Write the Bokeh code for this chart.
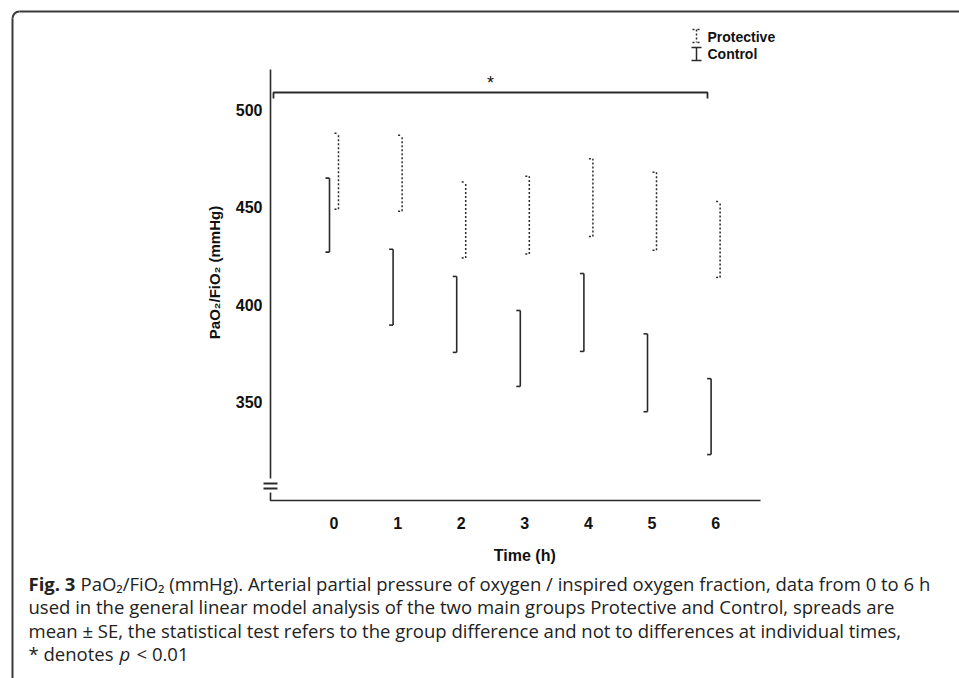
from math import pi
from bokeh.plotting import figure
from bokeh.models import Range1d
from bokeh.core.properties import value
from bokeh.embed import file_html
from bokeh.resources import INLINE

# ---------------- data ----------------
times = [0, 1, 2, 3, 4, 5, 6]
tick_labels = ["0", "1", "2", "3", "4", "5", "6"]
y_ticks = [350, 400, 450, 500]
y_tick_labels = ["350", "400", "450", "500"]
control_mean = [446, 409, 395, 377.5, 396, 365, 342.5]
control_se = [19, 19.5, 19.5, 19.5, 20, 20, 19.5]
protective_mean = [468.5, 467.5, 443.5, 446, 455, 448, 433.5]
protective_se = [19.5, 19.5, 19.5, 20, 20, 20, 19.5]
series_names = ["Protective", "Control"]

# ---------------- layout helpers (page pixels -> data) ----------------
W, H = 959, 678
OX, OY = 0, 0
PX0, PXS = 333.5, 63.6      # page x of t=0, px per hour
PY500, PYS = 109.5, 1.9467  # page y of 500 mmHg, px per mmHg


def X(px):
    return (px - PX0) / PXS


def Y(py):
    return 500 - (py - PY500) / PYS


def dx(px):
    return px / PXS


p = figure(width=W, height=H, output_backend="svg", toolbar_location=None,
           x_range=Range1d(X(OX), X(OX + W)), y_range=Range1d(Y(OY + H), Y(OY)),
           x_axis_type=None, y_axis_type=None, min_border=0,
           outline_line_color=None)
p.background_fill_color = "white"
p.border_fill_color = "white"

INK = "#2a2a2a"
FONT = value("Liberation Sans")

# ---------------- frame border ----------------
r = 7
BX, BY = 12, 11
p.line([X(BX), X(BX)], [Y(BY + r), Y(OY + H + 10)], line_color="#3a3a3a", line_width=2)
p.line([X(BX + r), X(OX + W + 10)], [Y(BY), Y(BY)], line_color="#3a3a3a", line_width=2)
p.arc(x=[X(BX + r)], y=[Y(BY + r)], radius=r, radius_units="screen",
      start_angle=pi / 2, end_angle=pi, line_color="#3a3a3a", line_width=2)

# ---------------- axes lines ----------------
p.line([X(270), X(270)], [Y(69), Y(478)], line_color=INK, line_width=1.6)
p.segment(x0=[X(263), X(263)], y0=[Y(483), Y(488)], x1=[X(277), X(277)], y1=[Y(483), Y(488)],
          line_color=INK, line_width=2)
p.line([X(270), X(270), X(760)], [Y(492), Y(500), Y(500)], line_color=INK, line_width=1.6)

# tick labels
p.text(x=[X(262)] * len(y_ticks), y=y_ticks, text=y_tick_labels, text_font=FONT,
       text_font_size="16px", text_font_style="bold", text_align="right",
       text_baseline="middle", text_color="#111")
p.text(x=times, y=[Y(522)] * len(times), text=tick_labels, text_font=FONT,
       text_font_size="16px", text_font_style="bold", text_align="center",
       text_baseline="middle", text_color="#111")
p.text(x=[3], y=[Y(555)], text=["Time (h)"], text_font=FONT,
       text_font_size="16px", text_font_style="bold", text_align="center",
       text_baseline="middle", text_color="#111")
p.text(x=[X(214)], y=[Y(272)], text=["PaO₂/FiO₂ (mmHg)"], angle=pi / 2, text_font=FONT,
       text_font_size="15px", text_font_style="bold", text_align="center",
       text_baseline="middle", text_color="#111")

# ---------------- error bars ----------------
off = dx(4.5)
ser = dx(4)
c_x = [t - off for t in times]
c_lo = [m - s for m, s in zip(control_mean, control_se)]
c_hi = [m + s for m, s in zip(control_mean, control_se)]
p.segment(x0=c_x, y0=c_lo, x1=c_x, y1=c_hi, line_color=INK, line_width=1.6)
p.segment(x0=[x - ser for x in c_x], y0=c_hi, x1=c_x, y1=c_hi, line_color=INK, line_width=1.6)
p.segment(x0=[x - ser for x in c_x], y0=c_lo, x1=c_x, y1=c_lo, line_color=INK, line_width=1.6)

p_x = [t + off for t in times]
p_lo = [m - s for m, s in zip(protective_mean, protective_se)]
p_hi = [m + s for m, s in zip(protective_mean, protective_se)]
p.segment(x0=p_x, y0=p_lo, x1=p_x, y1=p_hi, line_color=INK, line_width=1.5, line_dash="2 2")
p.segment(x0=[x - ser for x in p_x], y0=p_hi, x1=p_x, y1=p_hi, line_color=INK, line_width=1.5, line_dash="2 2")
p.segment(x0=[x - ser for x in p_x], y0=p_lo, x1=p_x, y1=p_lo, line_color=INK, line_width=1.5, line_dash="2 2")

# ---------------- significance bracket ----------------
p.line([X(273), X(273), X(707), X(707)], [Y(98), Y(92), Y(92), Y(98)], line_color=INK, line_width=1.8)
p.text(x=[(X(273) + X(707)) / 2], y=[Y(82)], text=["*"], text_font=FONT,
       text_font_size="18px", text_align="center", text_baseline="middle", text_color="#111")

# ---------------- legend ----------------
p.segment(x0=[X(696)], y0=[Y(29)], x1=[X(696)], y1=[Y(42)], line_color=INK, line_width=1.5, line_dash="2 2")
p.segment(x0=[X(692), X(692)], y0=[Y(29), Y(42)], x1=[X(700), X(700)], y1=[Y(29), Y(42)],
          line_color=INK, line_width=1.5, line_dash="2 3")
p.segment(x0=[X(696)], y0=[Y(47)], x1=[X(696)], y1=[Y(60)], line_color=INK, line_width=1.5)
p.segment(x0=[X(691), X(691)], y0=[Y(47), Y(60)], x1=[X(701), X(701)], y1=[Y(47), Y(60)],
          line_color=INK, line_width=1.5)
p.text(x=[X(707), X(707)], y=[Y(36), Y(53)], text=series_names, text_font=FONT,
       text_font_size="14px", text_font_style="bold", text_align="left",
       text_baseline="middle", text_color="#111")

# ---------------- caption ----------------
CF = value("Open Sans")
cap_size = "18.5px"
CX = 28
L1, LS = 583, 23.3
p.text(x=[X(CX)], y=[Y(L1)], text=["Fig. 3"], text_font=CF, text_font_size=cap_size,
       text_font_style="bold", text_align="left", text_baseline="middle", text_color="#222")
caption_lines = [
    "PaO₂/FiO₂ (mmHg). Arterial partial pressure of oxygen / inspired oxygen fraction, data from 0 to 6 h",
    "used in the general linear model analysis of the two main groups Protective and Control, spreads are",
    "mean ± SE, the statistical test refers to the group difference and not to differences at individual times,",
]
p.text(x=[X(CX + 52), X(CX), X(CX)], y=[Y(L1), Y(L1 + LS), Y(L1 + 2 * LS)], text=caption_lines,
       text_font=CF, text_font_size=cap_size, text_align="left", text_baseline="middle",
       text_color="#222")
p.text(x=[X(CX)], y=[Y(L1 + 3 * LS)], text=["* denotes"], text_font=CF, text_font_size=cap_size,
       text_align="left", text_baseline="middle", text_color="#222")
p.text(x=[X(CX + 91)], y=[Y(L1 + 3 * LS)], text=["p"], text_font=CF, text_font_size=cap_size,
       text_font_style="italic", text_align="left", text_baseline="middle", text_color="#222")
p.text(x=[X(CX + 108)], y=[Y(L1 + 3 * LS)], text=["< 0.01"], text_font=CF, text_font_size=cap_size,
       text_align="left", text_baseline="middle", text_color="#222")

open("out.html", "w").write(file_html(p, INLINE))
